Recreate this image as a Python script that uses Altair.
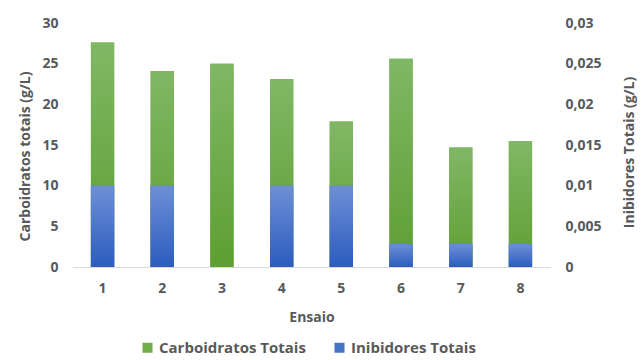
import altair as alt
import pandas as pd

ensaio = ["1", "2", "3", "4", "5", "6", "7", "8"]
carboidratos = [27.6, 24.1, 25.0, 23.1, 17.9, 25.6, 14.7, 15.5]
inibidores = [0.01, 0.01, 0.0, 0.01, 0.01, 0.0028, 0.0028, 0.0028]
series = ["Carboidratos Totais", "Inibidores Totais"]
colors = ["#70ad47", "#4472c4"]
left_ticks = [0, 5, 10, 15, 20, 25, 30]
right_ticks = [0, 0.005, 0.01, 0.015, 0.02, 0.025, 0.03]

df = pd.DataFrame({"Ensaio": ensaio, "Carbo": carboidratos, "Inib": inibidores,
                   "s1": series[0], "s2": series[1]})

FONT = "Open Sans"
GRAY = "#595959"
FS = 14

grad_green = alt.Gradient(gradient="linear", x1=0, x2=0, y1=0, y2=1,
                          stops=[alt.GradientStop(color="#80b765", offset=0),
                                 alt.GradientStop(color="#5d9f31", offset=1)])
grad_blue = alt.Gradient(gradient="linear", x1=0, x2=0, y1=0, y2=1,
                         stops=[alt.GradientStop(color="#6d8fd5", offset=0),
                                alt.GradientStop(color="#2c5cbf", offset=1)])

x = alt.X("Ensaio:N", sort=ensaio,
          scale=alt.Scale(paddingInner=0.61, paddingOuter=0.3),
          axis=alt.Axis(title="Ensaio", labelAngle=0, ticks=False, domainColor="#d9d9d9",
                        labelPadding=14, labelFont=FONT, labelFontSize=FS, labelFontWeight="bold",
                        labelColor=GRAY, titleFont=FONT, titleFontSize=FS, titleFontWeight="bold",
                        titleColor=GRAY, titleBaseline="middle", titleY=50))

y_left = alt.Y("Carbo:Q", scale=alt.Scale(domain=[0, 30]),
               axis=alt.Axis(title="Carboidratos totais (g/L)", values=left_ticks, grid=False,
                             domain=False, ticks=False, labelPadding=15, labelFont=FONT,
                             labelFontSize=FS, labelFontWeight="bold", labelColor=GRAY,
                             titleFont=FONT, titleFontSize=FS, titleFontWeight="bold",
                             titleColor=GRAY, titleX=-48, titleY=133, titleAlign="center",
                             titleBaseline="middle"))

y_right = alt.Y("Inib:Q", scale=alt.Scale(domain=[0, 0.03]),
                axis=alt.Axis(title="Inibidores Totais (g/L)", orient="right", values=right_ticks,
                              grid=False, domain=False, ticks=False, labelPadding=15,
                              labelExpr="replace(toString(datum.value), '.', ',')",
                              labelFont=FONT, labelFontSize=FS, labelFontWeight="bold",
                              labelColor=GRAY, titleFont=FONT, titleFontSize=FS,
                              titleFontWeight="bold", titleColor=GRAY, titleX=79, titleY=129,
                              titleAngle=270, titleAlign="center", titleBaseline="middle"))

legend = alt.Legend(title=None, orient="none", legendX=67, legendY=317, direction="horizontal",
                    symbolType="square", symbolSize=100, symbolStrokeWidth=0,
                    labelFont=FONT, labelFontSize=15, labelFontWeight="bold", labelColor=GRAY,
                    columnPadding=26, labelLimit=300)
color_scale = alt.Scale(domain=series, range=colors)

base = alt.Chart(df)

green = alt.layer(
    base.mark_bar().encode(x=x, y=y_left, color=alt.Color("s1:N", scale=color_scale, legend=legend)),
    base.mark_bar(fill=grad_green).encode(x=x, y=y_left),
)
blue = alt.layer(
    base.mark_bar().encode(x=x, y=y_right, color=alt.Color("s2:N", scale=color_scale, legend=legend)),
    base.mark_bar(fill=grad_blue).encode(x=x, y=y_right),
)

chart = alt.layer(green, blue).resolve_scale(y="independent").properties(
    width=477, height=244,
    padding={"left": 73, "top": 23, "right": 94, "bottom": 93},
    autosize=alt.AutoSizeParams(type="none"),
    background="white",
).configure_view(stroke=None)

chart.save("out.html", embed_options={"renderer": "svg", "actions": False})
